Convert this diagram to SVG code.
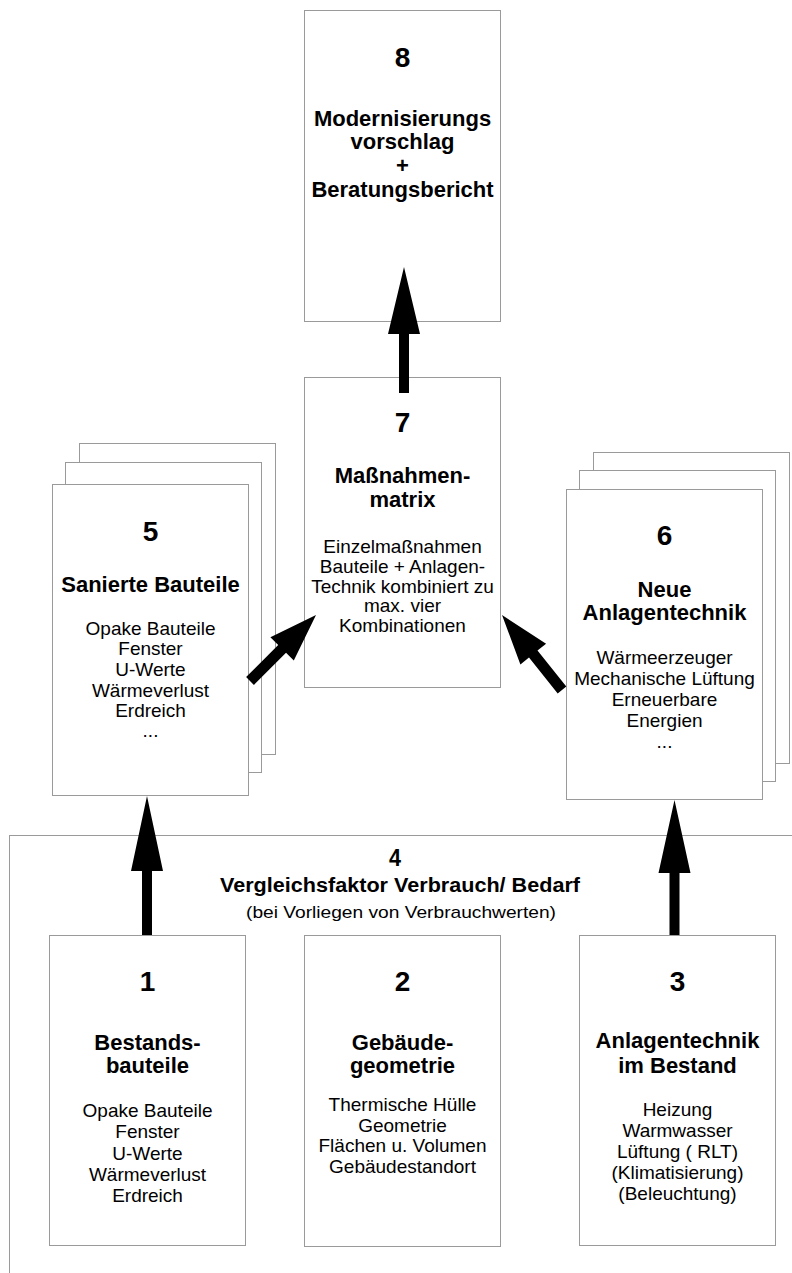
<svg xmlns="http://www.w3.org/2000/svg" width="792" height="1273" viewBox="0 0 792 1273">
<style>
.box{fill:#fff;stroke:#9a9a9a;stroke-width:1}
.num{font-family:"Liberation Sans",Arial,sans-serif;font-weight:bold;font-size:28px;text-anchor:middle;fill:#000}
.ttl{font-family:"Liberation Sans",Arial,sans-serif;font-weight:bold;font-size:22px;text-anchor:middle;fill:#000}
.body{font-family:"Liberation Sans",Arial,sans-serif;font-size:19px;text-anchor:middle;fill:#000}
.arrow{fill:#000;stroke:none}
</style>
<rect width="792" height="1273" fill="#fff"/>
<g id="node4">
<rect class="box" x="9.5" y="835.5" width="900" height="600"/>
<text class="num" x="395" y="866" style="font-size:24px" textLength="12" lengthAdjust="spacingAndGlyphs">4</text>
<text class="ttl" x="400" y="892" style="font-size:20px" textLength="360" lengthAdjust="spacingAndGlyphs">Vergleichsfaktor Verbrauch/ Bedarf</text>
<text class="body" x="401" y="918" style="font-size:17px" textLength="310" lengthAdjust="spacingAndGlyphs">(bei Vorliegen von Verbrauchwerten)</text>
</g>
<g id="node8">
<rect class="box" x="304.5" y="10.5" width="196" height="311"/>
<text class="num" x="402.5" y="67">8</text>
<text class="ttl" x="402.5" y="126">Modernisierungs</text>
<text class="ttl" x="402.5" y="149">vorschlag</text>
<text class="ttl" x="402.5" y="173">+</text>
<text class="ttl" x="402.5" y="197">Beratungsbericht</text>
</g>
<g id="node7">
<rect class="box" x="304.5" y="377.5" width="196" height="310"/>
<text class="num" x="402.5" y="432">7</text>
<text class="ttl" x="402.5" y="483">Maßnahmen-</text>
<text class="ttl" x="402.5" y="507">matrix</text>
<text class="body" x="402.5" y="553">Einzelmaßnahmen</text>
<text class="body" x="402.5" y="573">Bauteile + Anlagen-</text>
<text class="body" x="402.5" y="593">Technik kombiniert zu</text>
<text class="body" x="402.5" y="612">max. vier</text>
<text class="body" x="402.5" y="632">Kombinationen</text>
</g>
<g id="node5">
<rect class="box" x="79.5" y="443.5" width="196" height="311"/>
<rect class="box" x="65.5" y="462.5" width="196" height="310"/>
<rect class="box" x="52.5" y="484.5" width="196" height="311"/>
<text class="num" x="150.5" y="541">5</text>
<text class="ttl" x="150.5" y="592">Sanierte Bauteile</text>
<text class="body" x="150.5" y="635">Opake Bauteile</text>
<text class="body" x="150.5" y="655">Fenster</text>
<text class="body" x="150.5" y="676">U-Werte</text>
<text class="body" x="150.5" y="697">Wärmeverlust</text>
<text class="body" x="150.5" y="717">Erdreich</text>
<text class="body" x="150.5" y="737">...</text>
</g>
<g id="node6">
<rect class="box" x="593.5" y="452.5" width="196" height="311"/>
<rect class="box" x="579.5" y="470.5" width="196" height="311"/>
<rect class="box" x="566.5" y="489.5" width="196" height="310"/>
<text class="num" x="664.5" y="545">6</text>
<text class="ttl" x="664.5" y="597">Neue</text>
<text class="ttl" x="664.5" y="620">Anlagentechnik</text>
<text class="body" x="664.5" y="664">Wärmeerzeuger</text>
<text class="body" x="664.5" y="685">Mechanische Lüftung</text>
<text class="body" x="664.5" y="706">Erneuerbare</text>
<text class="body" x="664.5" y="727">Energien</text>
<text class="body" x="664.5" y="748">...</text>
</g>
<g id="node1">
<rect class="box" x="49.5" y="935.5" width="196" height="310"/>
<text class="num" x="147.5" y="991">1</text>
<text class="ttl" x="147.5" y="1050">Bestands-</text>
<text class="ttl" x="147.5" y="1073">bauteile</text>
<text class="body" x="147.5" y="1117">Opake Bauteile</text>
<text class="body" x="147.5" y="1138">Fenster</text>
<text class="body" x="147.5" y="1160">U-Werte</text>
<text class="body" x="147.5" y="1181">Wärmeverlust</text>
<text class="body" x="147.5" y="1202">Erdreich</text>
</g>
<g id="node2">
<rect class="box" x="304.5" y="935.5" width="196" height="311"/>
<text class="num" x="402.5" y="991">2</text>
<text class="ttl" x="402.5" y="1050">Gebäude-</text>
<text class="ttl" x="402.5" y="1073">geometrie</text>
<text class="body" x="402.5" y="1111">Thermische Hülle</text>
<text class="body" x="402.5" y="1132">Geometrie</text>
<text class="body" x="402.5" y="1152">Flächen u. Volumen</text>
<text class="body" x="402.5" y="1173">Gebäudestandort</text>
</g>
<g id="node3">
<rect class="box" x="579.5" y="935.5" width="196" height="310"/>
<text class="num" x="677.5" y="991">3</text>
<text class="ttl" x="677.5" y="1048">Anlagentechnik</text>
<text class="ttl" x="677.5" y="1073">im Bestand</text>
<text class="body" x="677.5" y="1116">Heizung</text>
<text class="body" x="677.5" y="1137">Warmwasser</text>
<text class="body" x="677.5" y="1158">Lüftung ( RLT)</text>
<text class="body" x="677.5" y="1179">(Klimatisierung)</text>
<text class="body" x="677.5" y="1200">(Beleuchtung)</text>
</g>
<g id="connectors">
<polygon class="arrow" points="404,267 420,334 409,334 409,393 399,393 399,334 388,334"/>
<polygon class="arrow" points="147,796 163,871 152,871 152,935 142,935 142,871 131,871"/>
<polygon class="arrow" points="674.5,800 690.5,873 679.5,873 679.5,935 669.5,935 669.5,873 658.5,873"/>
<polygon class="arrow" points="316,615 293.8,660.6 286,652.8 253.9,684.9 246.1,677.1 278.2,645 270.4,637.2"/>
<polygon class="arrow" points="502,615 546.1,643.7 537.5,650.6 566.3,686.6 557.7,693.4 529,657.5 520.4,664.4"/>
</g>
</svg>
